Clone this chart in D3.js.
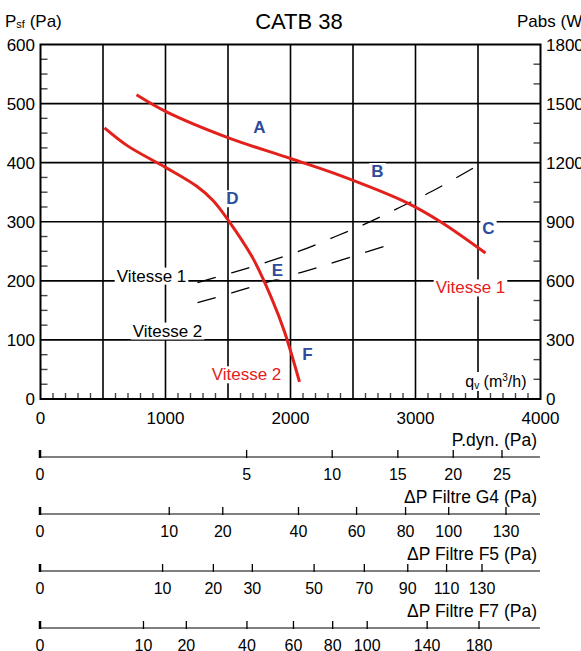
<!DOCTYPE html>
<html>
<head>
<meta charset="utf-8">
<script src="https://cdn.jsdelivr.net/npm/d3@7"></script>
<style>
  body { margin: 0; background: #fff; }
  svg { font-family: "Liberation Sans", Arial, sans-serif; }
</style>
</head>
<body>
<div id="chart"></div>
<script>
// fan curves, [q (m3/h), Psf (Pa)]
var vitesse1 = [[768,515],[1008,486],[1504,442],[2000,407],[2400,378],[2933,332],[3200,300],[3560,247]];
var vitesse2 = [[512,459],[700,428],[1000,392],[1250,360],[1380,336],[1504,302],[1700,238],[1850,170],[1950,115],[2072,29]];
// absorbed power (dashed)
var pabs1 = [[1256,197],[1536,214],[1816,232],[2080,251],[2360,275],[2616,298],[2880,325],[3136,352],[3520,398]];
var pabs2 = [[1256,163],[1536,180],[1816,198],[2080,214],[2360,232],[2744,258]];

var leftTicks = [0,100,200,300,400,500,600];
var rightTicks = [0,300,600,900,1200,1500,1800];
var bottomTicks = [0,1000,2000,3000,4000];

var letters = [["A",1752,459],["B",2696,385],["C",3584,288],["D",1536,339],["E",1896,217],["F",2136,75]];
var redLabels = [["Vitesse 1",3440,188],["Vitesse 2",1648,41]];
var blackLabels = [["Vitesse 1",888,208],["Vitesse 2",1016,115]];

// secondary scales under the chart
var pdynTicks = [0,5,10,15,20,25];
var g4Ticks = [0,10,20,40,60,80,100,130];
var f5Ticks = [0,10,20,30,50,70,90,110,130];
var f7Ticks = [0,10,20,40,60,80,100,140,180];

var W = 581, H = 651;
var red = "#e3211c", blue = "#2d4c9b";

var svg = d3.select("#chart").append("svg")
    .attr("width", W)
    .attr("height", H);

var x = d3.scaleLinear().domain([0, 4000]).range([40.5, 540.5]);
var y = d3.scaleLinear().domain([0, 600]).range([399, 44.5]);
var y2 = d3.scaleLinear().domain([0, 1800]).range([399, 44.5]);

var grid = svg.append("g");

// grid every 500 m3/h and 100 Pa
d3.range(500, 4000, 500).forEach(function(v) {
    grid.append("line")
        .attr("x1", x(v)).attr("x2", x(v))
        .attr("y1", y(600)).attr("y2", y(0))
        .attr("stroke", "#000").attr("stroke-width", 1.6);
});
d3.range(100, 600, 100).forEach(function(v) {
    grid.append("line")
        .attr("x1", x(0)).attr("x2", x(4000))
        .attr("y1", y(v)).attr("y2", y(v))
        .attr("stroke", "#000").attr("stroke-width", 1.6);
});

// minor ticks
d3.range(25, 600, 25).filter(function(v) { return v % 100 != 0; }).forEach(function(v) {
    grid.append("line")
        .attr("x1", x(0)).attr("x2", x(0) + 7)
        .attr("y1", y(v)).attr("y2", y(v))
        .attr("stroke", "#444").attr("stroke-width", 1.4);
});
d3.range(100, 1800, 100).filter(function(v) { return v % 300 != 0; }).forEach(function(v) {
    grid.append("line")
        .attr("x1", x(4000) - 7).attr("x2", x(4000))
        .attr("y1", y2(v)).attr("y2", y2(v))
        .attr("stroke", "#444").attr("stroke-width", 1.4);
});
d3.range(100, 4000, 100).filter(function(v) { return v % 500 != 0; }).forEach(function(v) {
    grid.append("line")
        .attr("x1", x(v)).attr("x2", x(v))
        .attr("y1", y(0)).attr("y2", y(0) - 6)
        .attr("stroke", "#444").attr("stroke-width", 1.4);
});

// frame
grid.append("rect")
    .attr("x", x(0)).attr("y", y(600))
    .attr("width", x(4000) - x(0)).attr("height", y(0) - y(600))
    .attr("fill", "none").attr("stroke", "#000").attr("stroke-width", 2);

// dashed power curves
var line = d3.line()
    .x(function(d) { return x(d[0]); })
    .y(function(d) { return y(d[1]); })
    .curve(d3.curveCatmullRom);

[pabs1, pabs2].forEach(function(s) {
    svg.append("path")
        .attr("d", line(s))
        .attr("fill", "none")
        .attr("stroke", "#000")
        .attr("stroke-width", 1.3)
        .attr("stroke-dasharray", "19,16");
});

// fan curves
[vitesse1, vitesse2].forEach(function(s) {
    svg.append("path")
        .attr("d", line(s))
        .attr("fill", "none")
        .attr("stroke", red)
        .attr("stroke-width", 3);
});

// labels with white boxes behind
function boxedText(txt, q, p, color, size, weight) {
    var g = svg.append("g");
    var t = g.append("text")
        .attr("x", x(q)).attr("y", y(p))
        .attr("text-anchor", "middle")
        .attr("dominant-baseline", "central")
        .attr("font-size", size)
        .attr("font-weight", weight)
        .attr("fill", color)
        .text(txt);
    var b = t.node().getBBox();
    g.insert("rect", "text")
        .attr("x", b.x - 2).attr("y", b.y + 1)
        .attr("width", b.width + 4).attr("height", b.height - 2)
        .attr("fill", "#fff");
}

letters.forEach(function(d) { boxedText(d[0], d[1], d[2], blue, 17, "bold"); });
redLabels.forEach(function(d) { boxedText(d[0], d[1], d[2], red, 17, "normal"); });
blackLabels.forEach(function(d) { boxedText(d[0], d[1], d[2], "#000", 17, "normal"); });

// qv label
var qg = svg.append("g");
var qt = qg.append("text")
    .attr("x", x(4000) - 14).attr("y", y(0) - 12)
    .attr("text-anchor", "end")
    .attr("font-size", 16)
    .attr("fill", "#000");
qt.append("tspan").text("q");
qt.append("tspan").attr("font-size", 10).attr("dy", 2).text("v");
qt.append("tspan").attr("dy", -2).text(" (m");
qt.append("tspan").attr("font-size", 10).attr("dy", -6).text("3");
qt.append("tspan").attr("dy", 6).text("/h)");
var qb = qt.node().getBBox();
qg.insert("rect", "text")
    .attr("x", qb.x - 2).attr("y", qb.y)
    .attr("width", qb.width + 4).attr("height", qb.height)
    .attr("fill", "#fff");

// axis labels
svg.selectAll(".lt").data(leftTicks).enter().append("text")
    .attr("x", 35).attr("y", function(d) { return y(d) + 6; })
    .attr("text-anchor", "end").attr("font-size", 17)
    .text(function(d) { return d; });

svg.selectAll(".rt").data(rightTicks).enter().append("text")
    .attr("x", 546).attr("y", function(d) { return y2(d) + 6; })
    .attr("font-size", 17)
    .text(function(d) { return d; });

svg.selectAll(".bt").data(bottomTicks).enter().append("text")
    .attr("x", function(d) { return x(d); }).attr("y", 424)
    .attr("text-anchor", "middle").attr("font-size", 17)
    .text(function(d) { return d; });

// title and axis titles
svg.append("text")
    .attr("x", 299).attr("y", 29)
    .attr("text-anchor", "middle").attr("font-size", 22)
    .text("CATB 38");

var lt = svg.append("text").attr("x", 5).attr("y", 27).attr("font-size", 17);
lt.append("tspan").text("P");
lt.append("tspan").attr("font-size", 11).attr("dy", 1).text("sf");
lt.append("tspan").attr("dy", -1).text(" (Pa)");

svg.append("text")
    .attr("x", 517).attr("y", 27).attr("font-size", 17)
    .text("Pabs (W)");

// secondary scales
function subScale(title, ticks, ly, vmax, xmax) {
    var s = d3.scaleSqrt().domain([0, vmax]).range([40, xmax]);
    var g = svg.append("g");
    g.append("line")
        .attr("x1", 40).attr("x2", 540)
        .attr("y1", ly).attr("y2", ly)
        .attr("stroke", "#555").attr("stroke-width", 1.6);
    g.selectAll("line.tk").data(ticks).enter().append("line")
        .attr("class", "tk")
        .attr("x1", function(d) { return s(d); }).attr("x2", function(d) { return s(d); })
        .attr("y1", ly + 1).attr("y2", ly - 7)
        .attr("stroke", "#000")
        .attr("stroke-width", function(d) { return d == 0 ? 2.5 : 1.3; });
    g.selectAll("text.tl").data(ticks).enter().append("text")
        .attr("class", "tl")
        .attr("x", function(d) { return s(d); }).attr("y", ly + 23)
        .attr("text-anchor", "middle").attr("font-size", 16)
        .text(function(d) { return d; });
    g.append("text")
        .attr("x", 537).attr("y", ly - 11)
        .attr("text-anchor", "end").attr("font-size", 17.5)
        .text(title);
}

subScale("P.dyn. (Pa)", pdynTicks, 457, 25, 502);
subScale("\u0394P Filtre G4 (Pa)", g4Ticks, 514, 130, 506);
subScale("\u0394P Filtre F5 (Pa)", f5Ticks, 571, 130, 482);
subScale("\u0394P Filtre F7 (Pa)", f7Ticks, 628, 180, 479);
</script>
</body>
</html>
